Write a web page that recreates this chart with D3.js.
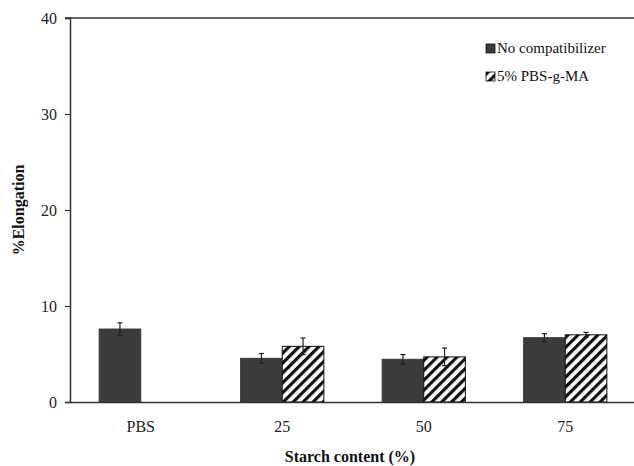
<!DOCTYPE html>
<html>
<head>
<script src="https://cdnjs.cloudflare.com/ajax/libs/d3/7.8.5/d3.min.js"></script>
<style>
  body { margin: 0; background: #fff; }
</style>
</head>
<body>
<script>
// data
const categories = ["PBS", "25", "50", "75"];
const seriesNames = ["No compatibilizer", "5% PBS-g-MA"];
const noCompat = [7.6, 4.55, 4.45, 6.7];
const noCompatErr = [0.65, 0.5, 0.5, 0.42];
const pbsgma = [null, 5.8, 4.7, 7.0];
const pbsgmaErr = [null, 0.87, 0.92, 0.25];
const yTicks = [0, 10, 20, 30, 40];

const W = 634, H = 466;
const margin = {top: 18, right: 0, bottom: 64, left: 70};
const serif = "'Liberation Serif', 'Times New Roman', Times, 'DejaVu Serif', serif";

const svg = d3.select("body").append("svg")
    .attr("width", W)
    .attr("height", H)
    .style("font-family", serif);

// hatch pattern for second series
const defs = svg.append("defs");
const pat = defs.append("pattern")
    .attr("id", "hatch")
    .attr("patternUnits", "userSpaceOnUse")
    .attr("width", 7)
    .attr("height", 7)
    .attr("patternTransform", "rotate(45)");
pat.append("rect").attr("width", 7).attr("height", 7).attr("fill", "#fff");
pat.append("rect").attr("width", 3.2).attr("height", 7).attr("fill", "#111");

const x = d3.scaleBand()
    .domain(categories)
    .range([margin.left, W - margin.right + 2])
    .paddingInner(0)
    .paddingOuter(0);

const xs = d3.scaleBand()
    .domain(seriesNames)
    .range([0, x.bandwidth()])
    .paddingInner(0)
    .paddingOuter(0.7);

const y = d3.scaleLinear()
    .domain([0, 40])
    .range([H - margin.bottom, margin.top]);

// rows for bars
const rows = [];
categories.forEach(function(c, i) {
    rows.push({cat: c, s: seriesNames[0], v: noCompat[i], e: noCompatErr[i]});
    if (pbsgma[i] != null) rows.push({cat: c, s: seriesNames[1], v: pbsgma[i], e: pbsgmaErr[i]});
});

// bars
svg.selectAll("rect.bar")
    .data(rows)
    .enter()
    .append("rect")
        .attr("class", "bar")
        .attr("x", function(d) { return x(d.cat) + xs(d.s); })
        .attr("width", xs.bandwidth())
        .attr("y", function(d) { return y(d.v); })
        .attr("height", function(d) { return y(0) - y(d.v); })
        .attr("fill", function(d) { return d.s === seriesNames[0] ? "#3b3b3b" : "url(#hatch)"; })
        .attr("stroke", function(d) { return d.s === seriesNames[0] ? "#3b3b3b" : "#111"; })
        .attr("stroke-width", 1);

// error bars
const cx = function(d) { return x(d.cat) + xs(d.s) + xs.bandwidth() / 2; };
const eb = svg.selectAll("g.err")
    .data(rows)
    .enter()
    .append("g")
        .attr("class", "err")
        .attr("stroke", "#222")
        .attr("stroke-width", 1.2);
eb.append("line")
    .attr("x1", cx).attr("x2", cx)
    .attr("y1", function(d) { return y(d.v - d.e); })
    .attr("y2", function(d) { return y(d.v + d.e); });
eb.append("line")
    .attr("x1", function(d) { return cx(d) - 2.5; })
    .attr("x2", function(d) { return cx(d) + 2.5; })
    .attr("y1", function(d) { return y(d.v + d.e); })
    .attr("y2", function(d) { return y(d.v + d.e); });
eb.append("line")
    .attr("x1", function(d) { return cx(d) - 2.5; })
    .attr("x2", function(d) { return cx(d) + 2.5; })
    .attr("y1", function(d) { return y(d.v - d.e); })
    .attr("y2", function(d) { return y(d.v - d.e); });

// y axis
const yAxis = svg.append("g")
    .attr("transform", "translate(" + margin.left + ",0)")
    .call(d3.axisLeft(y).tickValues(yTicks).tickSize(5).tickPadding(8))
    .attr("font-family", null);
yAxis.select(".domain").attr("stroke", "#333").attr("stroke-width", 1.5);
yAxis.selectAll(".tick line").attr("stroke", "#333").attr("stroke-width", 1.2);
yAxis.selectAll(".tick text")
    .style("font-family", serif)
    .attr("font-size", 16)
    .attr("fill", "#222");

// x axis
const xAxis = svg.append("g")
    .attr("transform", "translate(0," + y(0) + ")")
    .call(d3.axisBottom(x).tickSize(0).tickPadding(19))
    .attr("font-family", null);
xAxis.select(".domain").attr("stroke", "#333").attr("stroke-width", 1.5);
xAxis.selectAll(".tick text")
    .style("font-family", serif)
    .attr("font-size", 16)
    .attr("fill", "#222");

// top frame line
svg.append("line")
    .attr("x1", margin.left - 5).attr("x2", W)
    .attr("y1", y(40)).attr("y2", y(40))
    .attr("stroke", "#333").attr("stroke-width", 1.5);

// axis titles
svg.append("text")
    .attr("x", 350).attr("y", 462)
    .attr("text-anchor", "middle")
    .attr("font-weight", "bold")
    .attr("font-size", 16)
    .attr("fill", "#111")
    .style("font-family", serif)
    .text("Starch content (%)");

svg.append("text")
    .attr("transform", "translate(24,210) rotate(-90)")
    .attr("text-anchor", "middle")
    .attr("font-weight", "bold")
    .attr("font-size", 16)
    .attr("fill", "#111")
    .style("font-family", serif)
    .text("%Elongation");

// legend
const legend = svg.selectAll("g.leg")
    .data(seriesNames)
    .enter()
    .append("g")
        .attr("class", "leg")
        .attr("transform", function(d, i) { return "translate(486," + (44 + i * 28) + ")"; });
legend.append("rect")
    .attr("width", 9).attr("height", 9)
    .attr("fill", function(d, i) { return i === 0 ? "#3b3b3b" : "url(#hatch)"; })
    .attr("stroke", "#111").attr("stroke-width", 0.8);
legend.append("text")
    .attr("x", 11).attr("y", 9)
    .attr("font-size", 15)
    .attr("fill", "#111")
    .style("font-family", serif)
    .text(function(d) { return d; });
</script>
</body>
</html>
